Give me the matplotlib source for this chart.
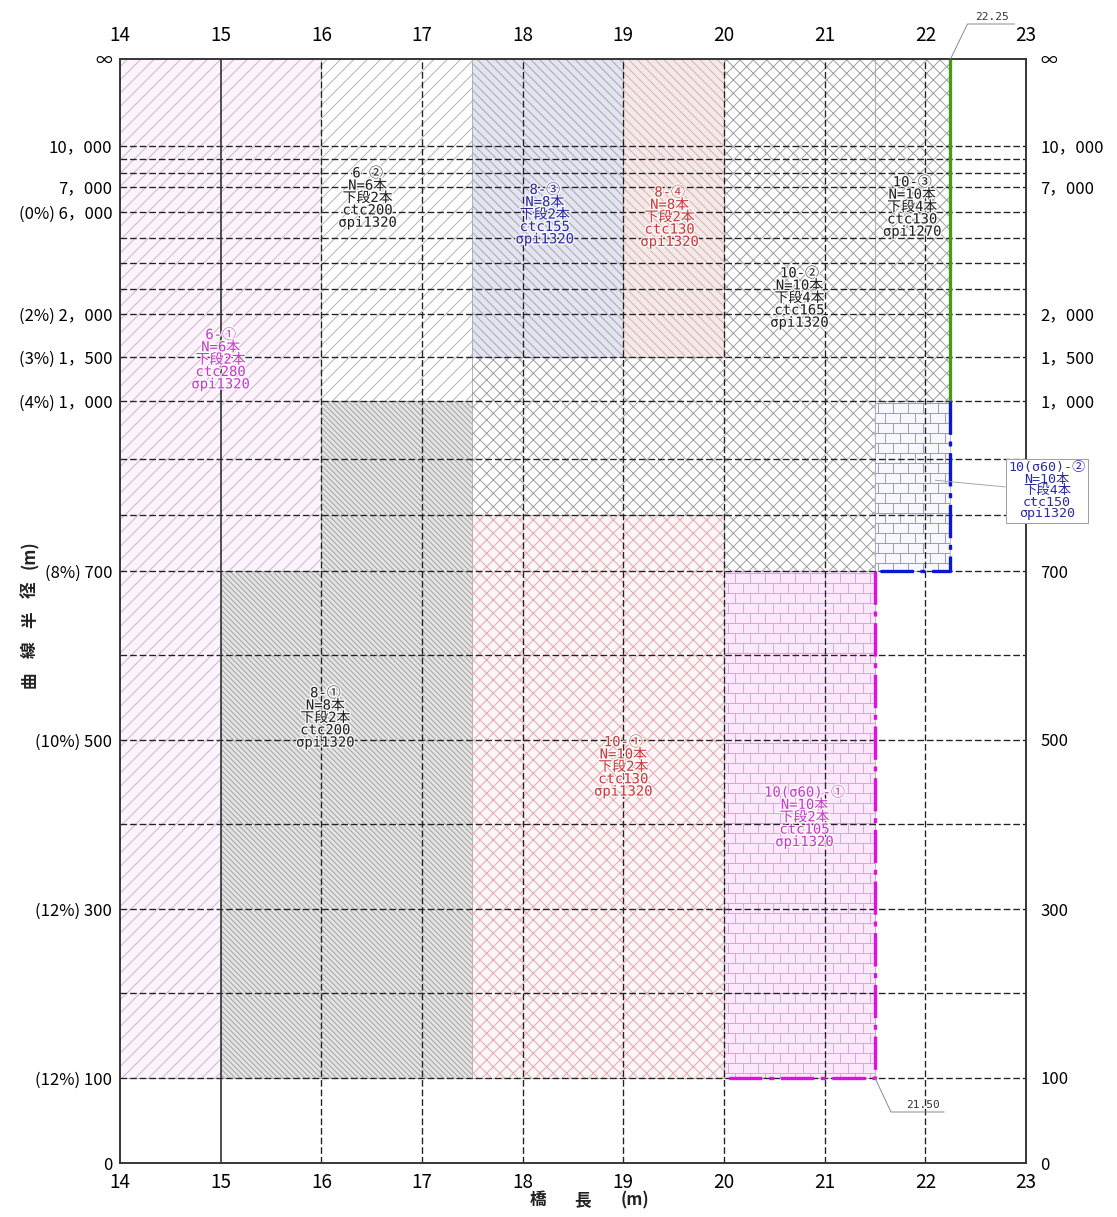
import numpy as np
import matplotlib
matplotlib.use("Agg")
import matplotlib.pyplot as plt
import matplotlib.patheffects as pe
from matplotlib.collections import LineCollection
from matplotlib.lines import Line2D

plt.rcParams['font.family'] = ['Noto Sans CJK JP', 'DejaVu Sans']
plt.rcParams['hatch.linewidth'] = 0.9
MONO = ['DejaVu Sans Mono', 'Noto Sans CJK JP']

INF = 20000  # stand-in value for the "∞" radius

# y axis layout: radius value -> height on the drawing (px from bottom)
R_STEPS = [0, 100, 200, 300, 400, 500, 600, 700, 800, 900, 1000, 1500, 2000,
           3000, 4000, 5000, 6000, 7000, 8000, 9000, 10000, INF]
R_POS = [0, 85, 170, 254, 339, 423, 508, 592, 648, 704, 762, 806, 849,
         874, 900, 925, 951, 976, 990, 1004, 1017, 1104]

GRID_R = R_STEPS[1:-1]
GRID_X = [16, 17, 18, 19, 20, 21, 22]
X_TICKS = list(range(14, 24))

LEFT_R = [INF, 10000, 7000, 6000, 2000, 1500, 1000, 700, 500, 300, 100, 0]
LEFT_LABELS = ['∞', '10，000', '7，000', '(0%) 6，000', '(2%) 2，000', '(3%) 1，500',
               '(4%) 1，000', '(8%) 700', '(10%) 500', '(12%) 300', '(12%) 100', '0']
RIGHT_R = [INF, 10000, 7000, 2000, 1500, 1000, 700, 500, 300, 100, 0]
RIGHT_LABELS = ['∞', '10，000', '7，000', '2，000', '1，500', '1，000',
                '700', '500', '300', '100', '0']

# applicable areas (bridge length x, curve radius r)
A61_X = [14, 16, 16, 15, 15, 14]
A61_R = [INF, INF, 700, 700, 100, 100]
A62_X = [16, 17.5, 17.5, 16]
A62_R = [INF, INF, 1000, 1000]
A81_X = [15, 16, 16, 17.5, 17.5, 15]
A81_R = [700, 700, 1000, 1000, 100, 100]
A83_X = [17.5, 19, 19, 17.5]
A83_R = [INF, INF, 1500, 1500]
A84_X = [19, 20, 20, 19]
A84_R = [INF, INF, 1500, 1500]
A102_X = [17.5, 20, 20, 21.5, 21.5, 20, 20, 17.5]
A102_R = [1500, 1500, INF, INF, 700, 700, 800, 800]
A101_X = [17.5, 20, 20, 17.5]
A101_R = [100, 100, 800, 800]
A103_X = [21.5, 22.25, 22.25, 21.5]
A103_R = [INF, INF, 1000, 1000]
S602_X = [21.5, 22.25, 22.25, 21.5]
S602_R = [1000, 1000, 700, 700]
S601_X = [20, 21.5, 21.5, 20]
S601_R = [700, 700, 100, 100]

GREEN_X, GREEN_R = [22.25, 22.25], [INF, 1000]
BLUE_X, BLUE_R = [22.25, 22.25, 21.5], [1000, 700, 700]
MAG_X, MAG_R = [21.5, 21.5, 20], [700, 100, 100]

LABELS = [
    (15.0, 1470, '6-①\nN=6本\n下段2本\nctc280\nσpi1320', '#c83cc8'),
    (16.46, 6560, '6-②\nN=6本\n下段2本\nctc200\nσpi1320', '#222222'),
    (18.22, 5900, '8-③\nN=8本\n下段2本\nctc155\nσpi1320', '#2b2ba0'),
    (19.46, 5800, '8-④\nN=8本\n下段2本\nctc130\nσpi1320', '#c83c3c'),
    (21.87, 6200, '10-③\nN=10本\n下段4本\nctc130\nσpi1270', '#222222'),
    (20.75, 2640, '10-②\nN=10本\n下段4本\nctc165\nσpi1320', '#222222'),
    (16.04, 526, '8-①\nN=8本\n下段2本\nctc200\nσpi1320', '#222222'),
    (19.0, 468, '10-①\nN=10本\n下段2本\nctc130\nσpi1320', '#c83c3c'),
    (20.8, 408, '10(σ60)-①\nN=10本\n下段2本\nctc105\nσpi1320', '#c83cc8'),
]

W, H = 1117, 1217
fig = plt.figure(figsize=(W / 80, H / 80), dpi=80)
ax = fig.add_axes([120 / W, 1 - 1163 / H, 906 / W, 1104 / H])


def fwd(r):
    return np.interp(r, R_STEPS, R_POS)


def inv(p):
    return np.interp(p, R_POS, R_STEPS)


ax.set_yscale('function', functions=(fwd, inv))
ax.set_xlim(14, 23)
ax.set_ylim(0, INF)

# hatched areas
areas = [
    (A61_X, A61_R, '#fcf3fc', '#c9b9c9', '//'),
    (A62_X, A62_R, '#ffffff', '#b4b4b4', '//'),
    (A81_X, A81_R, '#e4e4e4', '#a4a4a4', '\\' * 5),
    (A83_X, A83_R, '#e3e4ee', '#a4a8bc', '\\' * 3),
    (A84_X, A84_R, '#f5e8e8', '#d6b4b0', '\\' * 3),
    (A102_X, A102_R, '#ffffff', '#a0a0a0', 'xx'),
    (A101_X, A101_R, '#fdf6f7', '#e2a8ae', 'xx'),
    (A103_X, A103_R, '#ffffff', '#a0a0a0', 'xx'),
]
for xs, rs, face, hcol, hatch in areas:
    ax.fill(xs, rs, facecolor=face, edgecolor='#a0a0a0', linewidth=0.6, zorder=1)
    ax.fill(xs, rs, facecolor='none', edgecolor=hcol, linewidth=0, hatch=hatch, zorder=1.1)


def bricks(xs, rs, face, color):
    poly = ax.fill(xs, rs, facecolor=face, edgecolor='#a0a0a0', linewidth=0.6, zorder=1)[0]
    bw, bh = 15 / 906, 10 / 1104
    segs = []
    for i, y0 in enumerate(np.arange(0, 1 + bh, bh)):
        segs.append([(0, y0), (1, y0)])
        for x0 in np.arange((i % 2) * bw / 2, 1, bw):
            segs.append([(x0, y0), (x0, y0 + bh)])
    lc = LineCollection(segs, colors=color, linewidths=0.8, transform=ax.transAxes, zorder=1.2)
    ax.add_collection(lc)
    lc.set_clip_path(poly)


bricks(S601_X, S601_R, '#fbe8fb', '#d9a0d9')
bricks(S602_X, S602_R, '#f8f8fc', '#9494b4')

# grid
for r in GRID_R:
    ax.axhline(r, color='#222222', lw=1.2, ls=(0, (5, 2.2)), zorder=2)
for x in GRID_X:
    ax.axvline(x, color='#222222', lw=1.2, ls=(0, (5, 2.2)), zorder=2)
ax.axvline(15, color='#333333', lw=1.5, zorder=2)

# limit lines
ax.plot(GREEN_X, GREEN_R, color='#4a9a1a', lw=3, zorder=3, solid_capstyle='butt')
ax.plot(BLUE_X, BLUE_R, color='#0a18d0', lw=3, ls=(0, (10, 2, 1.5, 2)), zorder=3)
ax.plot(MAG_X, MAG_R, color='#e010e0', lw=3, ls=(0, (10, 2, 1.5, 2)), zorder=3)

halo = [pe.withStroke(linewidth=2.5, foreground='white', alpha=0.8)]
for x, r, txt, col in LABELS:
    ax.text(x, r, txt, ha='center', va='center', color=col, fontsize=12.5, family=MONO,
            linespacing=0.85, zorder=4, path_effects=halo)

# axes styling
for s in ax.spines.values():
    s.set_color('#333333')
    s.set_linewidth(1.4)
ax.set_xticks(X_TICKS)
ax.tick_params(axis='x', length=0, labelsize=17, pad=8)
ax.set_yticks(LEFT_R, LEFT_LABELS)
ax.minorticks_off()
ax.tick_params(axis='y', which='both', length=0, labelsize=15, pad=7)

top = ax.secondary_xaxis('top')
top.set_xticks(X_TICKS)
top.tick_params(length=0, labelsize=17, pad=12)
top.spines['top'].set_visible(False)

ax2 = ax.twinx()
ax2.set_yscale('function', functions=(fwd, inv))
ax2.set_ylim(0, INF)
ax2.set_yticks(RIGHT_R, RIGHT_LABELS)
ax2.minorticks_off()
ax2.tick_params(axis='y', which='both', length=0, labelsize=15, pad=13)
for s in ax2.spines.values():
    s.set_color('#333333')
    s.set_linewidth(1.4)

# boxed label for 10(σ60)-②
ax2.annotate('10(σ60)-②\nN=10本\n下段4本\nctc150\nσpi1320', xy=(22.1, 862), xytext=(23.21, 843),
             ha='center', va='center', color='#2b2ba0', fontsize=12, family=MONO,
             linespacing=0.85,
             bbox=dict(boxstyle='square,pad=0.2', fc='white', ec='#a0a0a8', lw=0.9),
             arrowprops=dict(arrowstyle='-', color='#a0a0a8', lw=0.8, shrinkA=0, shrinkB=0),
             zorder=6, annotation_clip=False)

# dimension leaders (drawn in pixel offsets from the data point)
fig.canvas.draw()
to_fig = fig.transFigure.inverted()


def leader(x, r, pts, txt, toff):
    px, py = ax.transData.transform((x, r))
    xy = [to_fig.transform((px + dx, py + dy)) for dx, dy in pts]
    fig.add_artist(Line2D([p[0] for p in xy], [p[1] for p in xy], color='#808080', lw=0.8))
    tx, ty = to_fig.transform((px + toff[0], py + toff[1]))
    fig.text(tx, ty, txt, ha='center', va='center', fontsize=10, color='#333333', family=MONO)


leader(22.25, INF, [(0, 0), (17, 35), (64, 35)], '22.25', (42, 42))
leader(21.5, 100, [(0, 0), (16, -34), (69, -34)], '21.50', (48, -27))

# axis titles, one glyph group at a time
for ch, ypx in zip(['曲', '線', '半', '径', '(m)'], [680, 650, 620, 590, 555]):
    fig.text(30 / W, 1 - ypx / H, ch, rotation=90, ha='center', va='center',
             fontsize=15, fontweight='bold', color='#222222')
for ch, xpx in zip(['橋', '長', '(m)'], [538, 583, 635]):
    fig.text(xpx / W, 1 - 1200 / H, ch, ha='center', va='center',
             fontsize=15, fontweight='bold', color='#222222')

fig.savefig('out.png', dpi=80)
